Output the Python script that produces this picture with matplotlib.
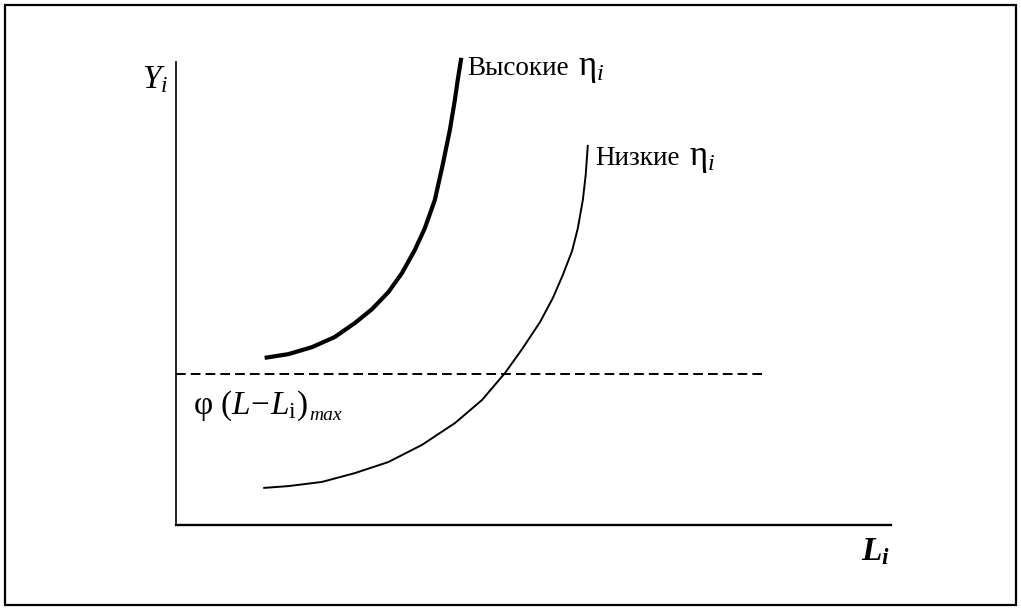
import matplotlib
matplotlib.use("Agg")
import matplotlib.pyplot as plt
from matplotlib.patches import Rectangle

plt.rcParams['font.family'] = ['Liberation Serif', 'DejaVu Serif']
plt.rcParams['mathtext.fontset'] = 'custom'
plt.rcParams['mathtext.rm'] = 'Liberation Serif'
plt.rcParams['mathtext.it'] = 'Liberation Serif:italic'
plt.rcParams['mathtext.bf'] = 'Liberation Serif:bold:italic'

# кривые (условные единицы, оси 0..100)
high_L = [12.4, 15.7, 19.0, 22.2, 25.0, 27.4, 29.7, 31.6, 33.4, 34.8, 36.2,
          37.3, 38.3, 39.0, 39.4, 39.9]
high_Y = [36.1, 36.9, 38.4, 40.6, 43.6, 46.6, 50.3, 54.4, 59.4, 64.1, 70.2,
          77.8, 85.3, 91.8, 96.1, 100.9]

low_L = [12.2, 15.7, 20.4, 25.0, 29.7, 34.4, 39.0, 42.8, 46.0, 48.5, 50.9,
         52.7, 54.1, 55.4, 56.2, 56.9, 57.3, 57.6]
low_Y = [8.0, 8.4, 9.3, 11.2, 13.6, 17.3, 22.0, 27.0, 32.8, 38.2, 43.8,
         49.0, 54.0, 59.2, 64.1, 70.2, 75.6, 82.1]

phi_level = 32.6
phi_end = 82.4

W, H = 1021, 608
fig = plt.figure(figsize=(W / 100, H / 100), dpi=100)
ax = fig.add_axes([176 / W, 1 - 525 / H, 715 / W, 463 / H])

ax.plot(high_L, high_Y, color='black', lw=3.0, clip_on=False,
        solid_capstyle='butt', solid_joinstyle='round')
ax.plot(low_L, low_Y, color='black', lw=1.4, clip_on=False,
        solid_capstyle='butt', solid_joinstyle='round')
ax.plot([0, phi_end], [phi_level, phi_level], color='black', lw=1.4,
        dashes=(5, 2.6))

ax.set_xlim(0, 100)
ax.set_ylim(0, 100)
ax.spines['top'].set_visible(False)
ax.spines['right'].set_visible(False)
ax.spines['left'].set_linewidth(1.2)
ax.spines['bottom'].set_linewidth(1.7)
ax.set_xticks([])
ax.set_yticks([])
ax.patch.set_alpha(0)

# рамка
fig.patches.append(Rectangle((5 / W, 1 - 605 / H), 1011 / W, 600 / H,
                             transform=fig.transFigure, fill=False,
                             edgecolor='black', lw=1.6))

def px(x, y):
    return x / W, 1 - y / H

def right_of(t, gap):
    fig.canvas.draw()
    bb = t.get_window_extent()
    return (bb.x1 + gap) / W

# подписи кривых
t1 = fig.text(*px(467, 75), 'Высокие', fontsize=19.5, va='baseline')
fig.text(right_of(t1, 9), 1 - 75 / H, r'$\mathrm{\eta}_{i}$', fontsize=25,
         va='baseline')
t2 = fig.text(*px(595, 165), 'Низкие', fontsize=19.5, va='baseline')
fig.text(right_of(t2, 9), 1 - 165 / H, r'$\mathrm{\eta}_{i}$', fontsize=25,
         va='baseline')

# оси
fig.text(*px(142, 88), r'$Y_{i}$', fontsize=24, va='baseline')
fig.text(*px(861, 560), r'$\mathbf{L}_{\mathbf{i}}$', fontsize=24, va='baseline')

t3 = fig.text(*px(193, 414), r'$\mathrm{\varphi}\ (L\!-\!L_{\mathrm{i}})$',
              fontsize=24, va='baseline')
fig.text(right_of(t3, 1), 1 - 420 / H, 'max', fontsize=14, style='italic',
         va='baseline')

fig.savefig('out.png', dpi=100)
